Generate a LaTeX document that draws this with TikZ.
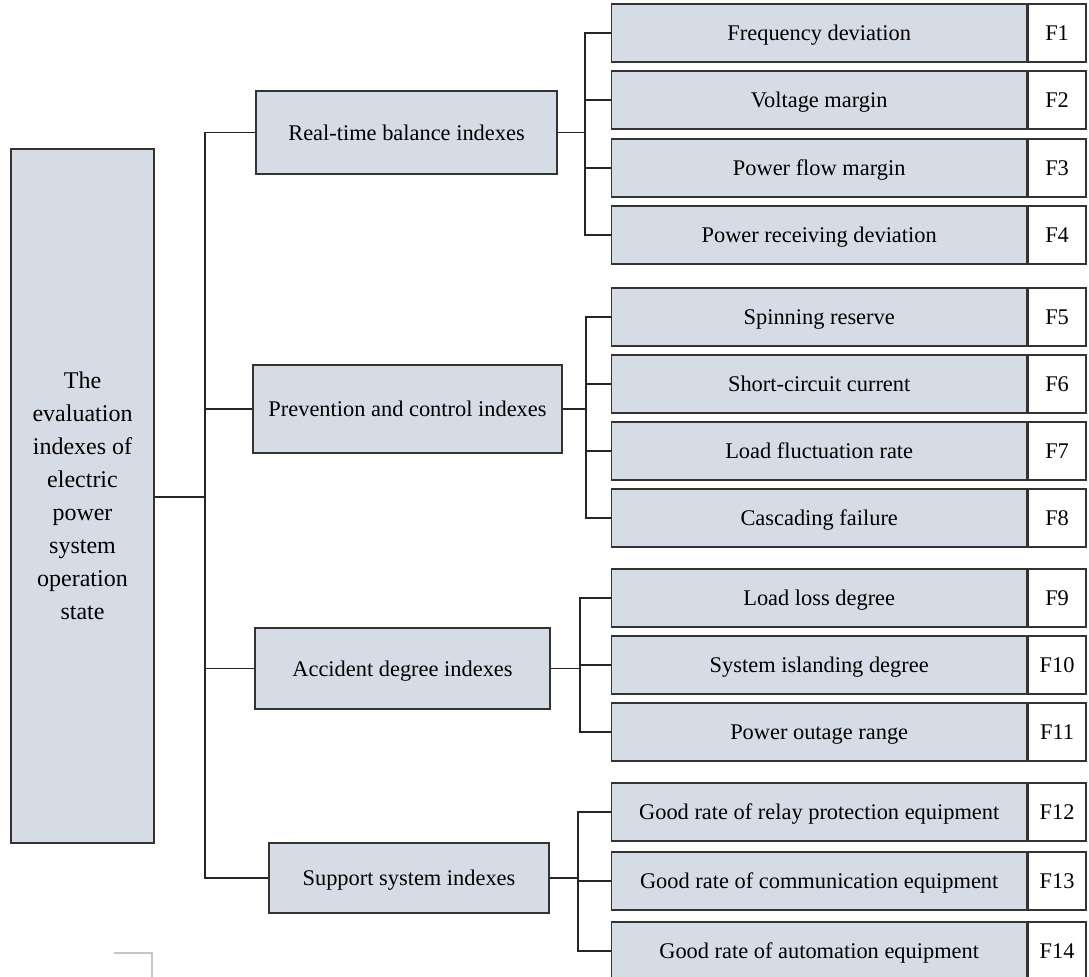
\documentclass[tikz,border=0pt]{standalone}
\usepackage{fontspec}
\setmainfont{Liberation Serif}
\usepackage{xcolor}
\usepackage{tikz}
\usetikzlibrary{positioning}
\definecolor{boxfill}{HTML}{D6DCE5}
\tikzset{
  rootbox/.style = {rectangle, draw=black!80, fill=boxfill, line width=0.7pt,
                    minimum width=71.5pt, minimum height=347pt, align=center, inner sep=0pt,
                    font=\fontsize{12}{16.5}\selectfont},
  midbox/.style  = {rectangle, draw=black!80, fill=boxfill, line width=0.7pt, inner sep=0pt,
                    text height=0.9em, text depth=0.1em},
  leaf/.style    = {rectangle, draw=black!80, fill=boxfill, line width=0.7pt,
                    minimum width=207.5pt, minimum height=29pt, inner sep=0pt,
                    text height=0.9em, text depth=0.1em},
  fbox/.style    = {rectangle, draw=black!80, fill=white, line width=0.7pt,
                    minimum width=29pt, minimum height=29pt, inner sep=0pt,
                    text height=0.9em, text depth=0.1em},
  link/.style    = {draw=black!85, line width=0.7pt},
}

\begin{document}
\begin{tikzpicture}[x=0.5pt, y=-0.5pt, every node/.style={font=\fontsize{11.2}{16.5}\selectfont}]
  \useasboundingbox (0,0) rectangle (1089,977);

    %% Root
    \node[rootbox] (root) at (82.5,496)
      {The\\evaluation\\indexes of\\electric\\power\\system\\operation\\state};

    %% Second level
    \node[midbox, minimum width=150.5pt, minimum height=41.5pt] (real) at (406.5,132.5) {Real-time balance indexes};
    \node[midbox, minimum width=154.5pt, minimum height=44pt]   (prev) at (407.5,409)   {Prevention and control indexes};
    \node[midbox, minimum width=147.5pt, minimum height=40.5pt] (acc)  at (402.5,668.5) {Accident degree indexes};
    \node[midbox, minimum width=140pt,   minimum height=35pt]   (sup)  at (409,878)     {Support system indexes};

    %% Leaves
    \foreach \n/\y/\lbl in {
      1/33/{Frequency deviation},
      2/100/{Voltage margin},
      3/168/{Power flow margin},
      4/235/{Power receiving deviation},
      5/317/{Spinning reserve},
      6/384/{Short-circuit current},
      7/451/{Load fluctuation rate},
      8/518/{Cascading failure},
      9/598/{Load loss degree},
      10/665/{System islanding degree},
      11/732/{Power outage range},
      12/812/{Good rate of relay protection equipment},
      13/881/{Good rate of communication equipment},
      14/951/{Good rate of automation equipment}}
    {
      \node[leaf, anchor=west] (leaf\n) at (611,\y) {\lbl};
      \node[fbox, right=0pt of leaf\n] (f\n) {F\n};
    }

    %% Bus points
    \coordinate (trunk) at (205,497);
    \coordinate (bus1) at (585,132.5);
    \coordinate (bus2) at (586,409);
    \coordinate (bus3) at (580,668.5);
    \coordinate (bus4) at (578,878);

    %% Connectors
    \foreach \m in {real,prev,acc,sup}
      \draw[link] (root.east |- trunk) -- (trunk) |- (\m.west);
    \foreach \n in {1,...,4}
      \draw[link] (real.east) -- (bus1) |- (leaf\n.west);
    \foreach \n in {5,...,8}
      \draw[link] (prev.east) -- (bus2) |- (leaf\n.west);
    \foreach \n in {9,10,11}
      \draw[link] (acc.east) -- (bus3) |- (leaf\n.west);
    \foreach \n in {12,13,14}
      \draw[link] (sup.east) -- (bus4) |- (leaf\n.west);

    %% Corner mark
    \draw[gray!45, line width=1pt] (114,953) -- (152,953) -- (152,977);

\end{tikzpicture}
\end{document}
